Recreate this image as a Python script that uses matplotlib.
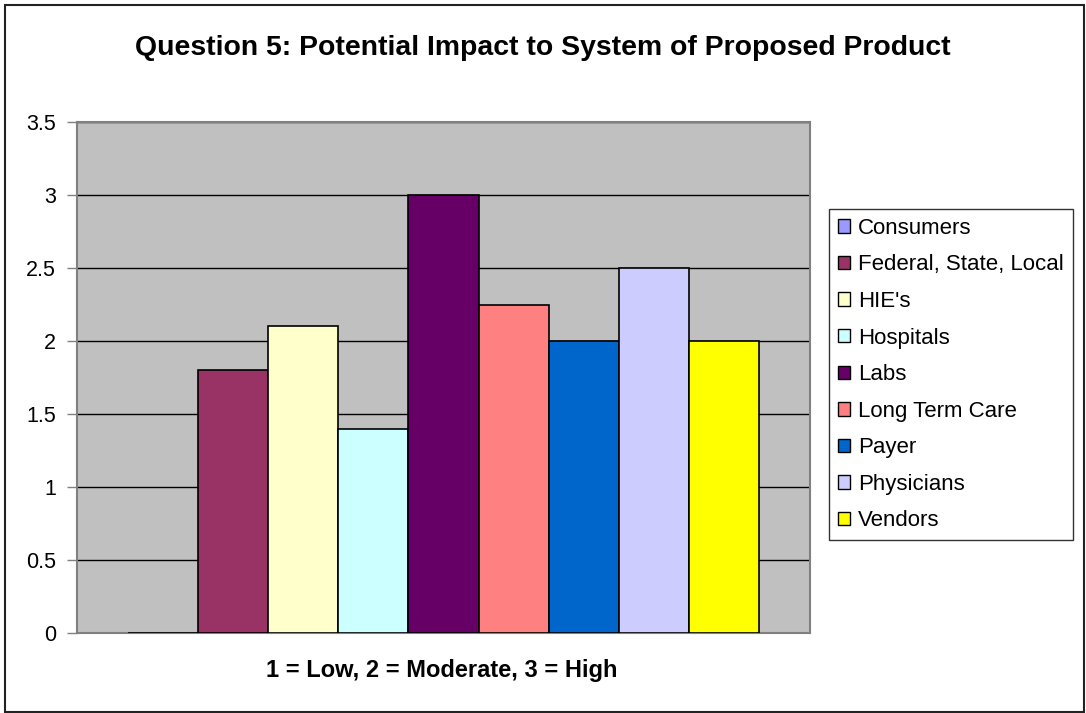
import matplotlib
matplotlib.use("Agg")
import matplotlib.pyplot as plt
from matplotlib.patches import Rectangle, Patch

categories = ["Consumers", "Federal, State, Local", "HIE's", "Hospitals", "Labs",
              "Long Term Care", "Payer", "Physicians", "Vendors"]
values = [0, 1.8, 2.1, 1.4, 3.0, 2.25, 2.0, 2.5, 2.0]
colors = ["#9999FF", "#993366", "#FFFFCC", "#CCFFFF", "#660066",
          "#FF8080", "#0066CC", "#CCCCFF", "#FFFF00"]
yticks = [0, 0.5, 1, 1.5, 2, 2.5, 3, 3.5]
ytick_labels = ["0", "0.5", "1", "1.5", "2", "2.5", "3", "3.5"]
title = "Question 5: Potential Impact to System of Proposed Product"
xlabel = "1 = Low, 2 = Moderate, 3 = High"

plt.rcParams['font.family'] = ['Liberation Sans', 'DejaVu Sans']

W, H = 1086, 713
fig = plt.figure(figsize=(W / 100, H / 100), dpi=100)

# outer frame
fig.patches.append(Rectangle((5 / W, 1 - 712 / H), (1084 - 5) / W, (712 - 5) / H,
                             transform=fig.transFigure, fill=False,
                             edgecolor="#222222", linewidth=1.5, zorder=0))

ax = fig.add_axes([77 / W, 1 - 633 / H, (810 - 77) / W, (633 - 122) / H])
ax.set_facecolor("#C0C0C0")
ax.set_axisbelow(True)

n = len(values)
xs = list(range(n))
for x, v, c, lab in zip(xs, values, colors, categories):
    ax.bar(x, v, width=1.0, color=c, edgecolor="black", linewidth=1.2, label=lab, zorder=3)

gap = 0.72
ax.set_xlim(-0.5 - gap, n - 0.5 + gap)
ax.set_ylim(0, 3.5)
ax.set_yticks(yticks)
ax.set_yticklabels(ytick_labels, fontsize=15.5)
ax.set_xticks([])
ax.yaxis.grid(True, color="black", linewidth=1.0)
ax.tick_params(axis='y', length=7, width=1, color="#808080", pad=8)
for s in ax.spines.values():
    s.set_color("#808080")
    s.set_linewidth(1.5)

fig.text(0.5, 1 - 48 / H, title, ha="center", va="center", fontsize=20.4, fontweight="bold")
fig.text(442 / W, 1 - 671 / H, xlabel, ha="center", va="center", fontsize=17, fontweight="bold")

handles = [Patch(facecolor=c, edgecolor="black", linewidth=1.0) for c in colors]
leg = fig.legend(handles, categories, loc="upper left",
                 bbox_to_anchor=(829 / W, 1 - 209 / H), bbox_transform=fig.transFigure,
                 fontsize=16, frameon=True, fancybox=False, edgecolor="black",
                 handlelength=0.55, handleheight=0.55, handletextpad=0.35,
                 labelspacing=0.7, borderpad=0.4, borderaxespad=0)
leg.get_frame().set_linewidth(1.0)

fig.savefig("out.png", dpi=100)
